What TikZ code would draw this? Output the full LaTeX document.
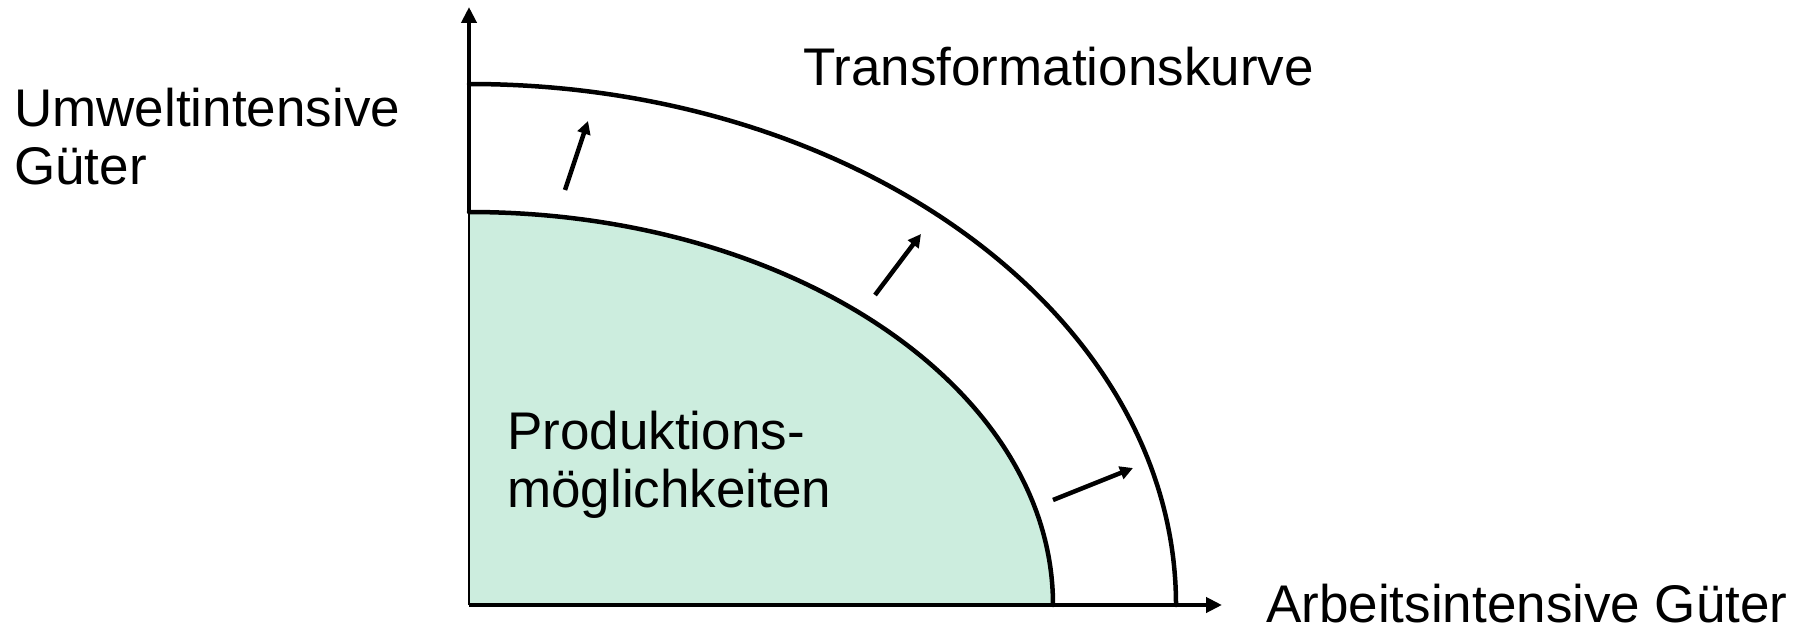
\documentclass[tikz,border=0pt]{standalone}
\usepackage{fontspec}
\setmainfont{Liberation Sans}
\usetikzlibrary{arrows.meta}
\definecolor{possfill}{HTML}{CCEDDE}
\tikzset{
  curve/.style={line width=4.5pt, line cap=round},
  axis/.style={line width=4.5pt, -{Triangle[length=16pt,width=15pt]}},
  shiftarrow/.style={line width=4.5pt, -{Triangle[length=13pt,width=13pt]}},
  label/.style={inner sep=0pt, anchor=base west, font=\fontsize{53}{58}\selectfont, align=left}
}
\begin{document}
\begin{tikzpicture}[x=1pt,y=-1pt]
\useasboundingbox (0,0) rectangle (1806,628);
% origin and curve intercepts
\coordinate (O) at (469,605);
\coordinate (yin) at (469,212);
\coordinate (yout) at (469,84);
\coordinate (xin) at (1053,605);
\coordinate (xout) at (1176,605);
\coordinate (ytop) at (469,7);
\coordinate (xend) at (1222,605);
% production possibilities region
\fill[possfill] (O) -- (yin) arc[start angle=-90,end angle=0,x radius=584,y radius=393] -- cycle;
% axes
\draw[line width=1.8pt] (O) -- (yin);
\draw[axis] (yin) -- (ytop);
\draw[axis] (O) -- (xend);
% transformation curves
\draw[curve] (yin) arc[start angle=-90,end angle=0,x radius=584,y radius=393];
\draw[curve] (yout) arc[start angle=-90,end angle=0,x radius=707,y radius=521];
% outward shift arrows
\coordinate (a1) at (565,190); \coordinate (b1) at (588,121);
\coordinate (a2) at (875,295); \coordinate (b2) at (921,234);
\coordinate (a3) at (1053,500); \coordinate (b3) at (1133,468);
\draw[shiftarrow] (a1) -- (b1);
\draw[shiftarrow] (a2) -- (b2);
\draw[shiftarrow] (a3) -- (b3);
% labels (anchored at the baseline of the last line)
\node[label] (ylab) at (14,185) {Umweltintensive\\Güter};
\node[label] (tlab) at (803,86) {Transformationskurve};
\node[label] (plab) at (507,507) {Produktions-\\möglichkeiten};
\node[label] (xlab) at (1266,622) {Arbeitsintensive Güter};
\end{tikzpicture}
\end{document}
